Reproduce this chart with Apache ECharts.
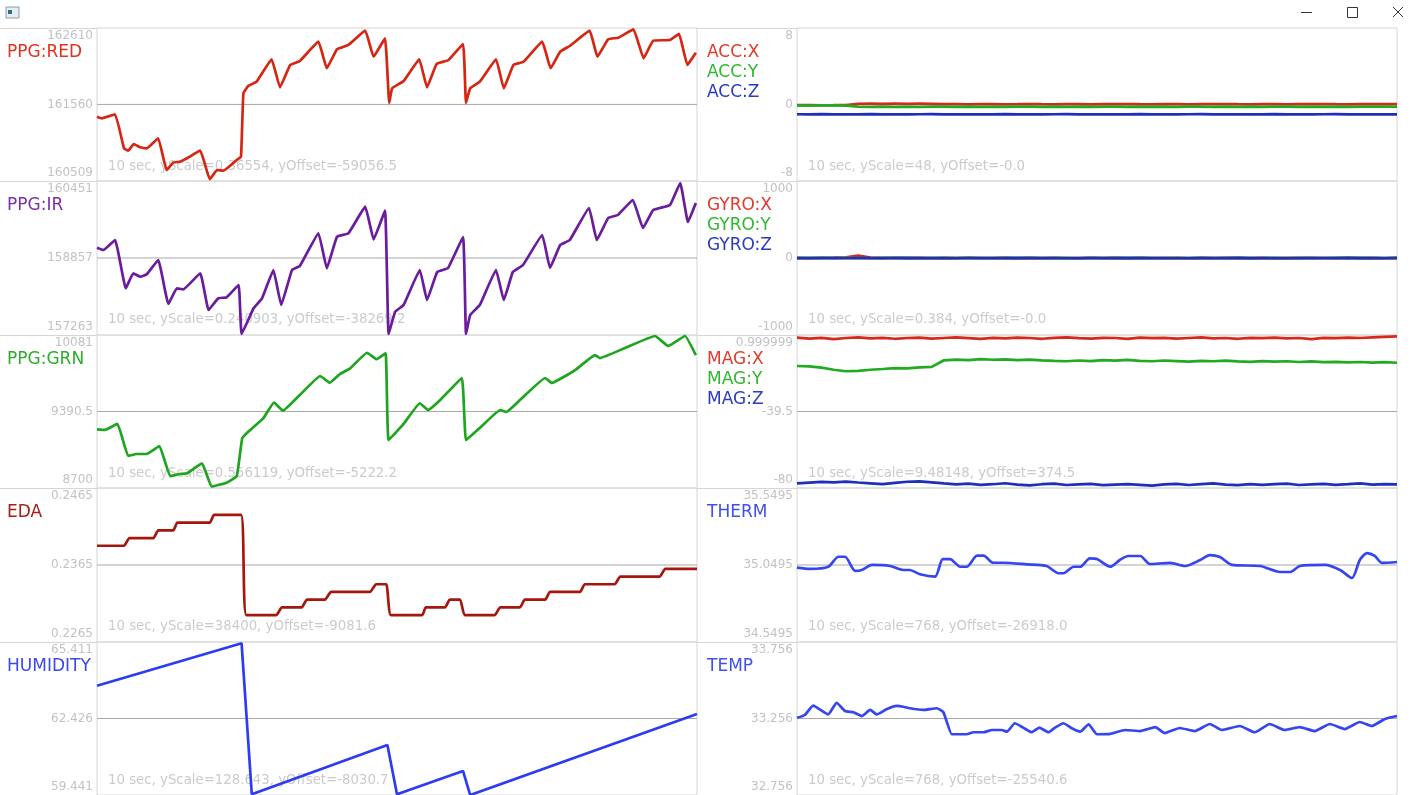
<!DOCTYPE html>
<html>
<head>
<meta charset="utf-8">
<title>sensor plots</title>
<script src="https://cdn.jsdelivr.net/npm/echarts@6.0.0/dist/echarts.min.js"></script>
<style>
  html, body { margin: 0; padding: 0; background: #fff; }
  #main { width: 1416px; height: 795px; }
</style>
</head>
<body>
<div id="main"></div>
<script>
// ---- data: [seconds, value] ----
const ppgRed = [[0,161392],[0.08,161370],[0.30,161425],[0.45,160958],[0.52,160925],[0.61,161017],[0.72,160972],[0.83,160958],[1.02,161096],[1.16,160660],[1.27,160761],[1.38,160774],[1.50,160821],[1.72,160925],[1.88,160533],[2.00,160660],[2.11,160651],[2.33,160798],[2.40,160843],[2.44,161713],[2.52,161814],[2.66,161873],[2.91,162180],[3.05,161796],[3.22,162102],[3.38,162157],[3.69,162422],[3.83,162057],[4.00,162318],[4.19,162377],[4.47,162573],[4.61,162216],[4.80,162469],[4.87,161584],[4.92,161782],[5.11,161882],[5.37,162180],[5.50,161796],[5.66,162116],[5.86,162171],[6.10,162390],[6.15,161584],[6.22,161782],[6.38,161873],[6.65,162180],[6.78,161782],[6.94,162102],[7.11,162147],[7.42,162422],[7.56,162057],[7.72,162285],[7.88,162363],[8.21,162573],[8.34,162216],[8.52,162455],[8.69,162477],[8.94,162592],[9.11,162194],[9.27,162436],[9.55,162445],[9.70,162528],[9.84,162102],[9.98,162271]];
const ppgIr = [[0,159070],[0.105,159023],[0.30,159230],[0.48,158230],[0.605,158540],[0.72,158470],[0.83,158520],[1.02,158816],[1.19,157905],[1.33,158230],[1.44,158209],[1.72,158540],[1.86,157781],[2.02,158023],[2.16,158044],[2.36,158298],[2.41,157284],[2.61,157816],[2.75,158023],[2.94,158609],[3.07,157884],[3.25,158609],[3.38,158691],[3.69,159368],[3.83,158644],[4.00,159298],[4.19,159368],[4.47,159919],[4.61,159244],[4.80,159836],[4.86,157284],[4.97,157746],[5.11,157884],[5.38,158609],[5.50,157988],[5.67,158567],[5.85,158650],[6.10,159292],[6.15,157284],[6.22,157677],[6.38,157884],[6.65,158609],[6.78,157988],[6.93,158567],[7.10,158712],[7.42,159333],[7.55,158650],[7.72,159126],[7.88,159230],[8.20,159892],[8.33,159230],[8.52,159685],[8.68,159747],[8.93,160058],[9.10,159478],[9.27,159851],[9.55,159954],[9.72,160410],[9.85,159602],[9.98,159996]];
const ppgGrn = [[0,9230],[0.13,9224],[0.34,9278],[0.52,8989],[0.66,9007],[0.83,9007],[1.04,9079],[1.22,8808],[1.38,8826],[1.50,8833],[1.75,8923],[1.91,8712],[2.02,8727],[2.16,8748],[2.33,8808],[2.42,9149],[2.52,9208],[2.77,9329],[2.95,9470],[3.10,9398],[3.38,9539],[3.72,9711],[3.88,9650],[4.05,9729],[4.22,9780],[4.50,9921],[4.66,9862],[4.81,9916],[4.86,9133],[5.11,9278],[5.38,9465],[5.52,9404],[5.72,9494],[6.08,9693],[6.15,9133],[6.38,9242],[6.72,9404],[6.82,9386],[7.05,9494],[7.47,9693],[7.58,9648],[7.97,9765],[8.30,9900],[8.38,9873],[8.80,9964],[9.30,10072],[9.52,9982],[9.80,10072],[9.98,9900]];
const eda = [[0,0.2390],[0.45,0.2390],[0.54,0.2400],[0.94,0.2400],[1.02,0.2410],[1.27,0.2410],[1.34,0.2420],[1.88,0.2420],[1.95,0.2430],[2.40,0.2430],[2.49,0.2300],[2.99,0.2300],[3.08,0.2310],[3.41,0.2310],[3.50,0.2320],[3.80,0.2320],[3.90,0.2330],[4.55,0.2330],[4.65,0.2340],[4.82,0.2340],[4.90,0.2300],[5.42,0.2300],[5.48,0.2310],[5.80,0.2310],[5.88,0.2320],[6.05,0.2320],[6.13,0.2300],[6.63,0.2300],[6.72,0.2310],[7.05,0.2310],[7.13,0.2320],[7.47,0.2320],[7.55,0.2330],[8.05,0.2330],[8.13,0.2340],[8.63,0.2340],[8.72,0.2350],[9.38,0.2350],[9.47,0.2360],[10,0.2360]];
const humidity = [[0,63.706],[2.41,65.36],[2.58,59.47],[4.84,61.39],[5.0,59.47],[6.1,60.38],[6.22,59.44],[10,62.60]];

// uniform samples over the 10 s window
const accX = [-0.07,-0.06,-0.08,-0.07,-0.05,0.08,0.09,0.07,0.09,0.08,0.10,0.07,0.03,0.04,0.02,0.03,0.04,0.02,0.03,0.05,0.03,0.02,0.04,0.03,0.02,0.04,0.03,0.05,0.03,0.02,0.04,0.03,0.02,0.04,0.03,0.05,0.03,0.02,0.04,0.03,0.02,0.04,0.03,0.05,0.03,0.02,0.04,0.03,0.04,0.05];
const accY = [-0.10,-0.11,-0.09,-0.10,-0.12,-0.22,-0.24,-0.23,-0.25,-0.22,-0.24,-0.23,-0.22,-0.24,-0.23,-0.25,-0.22,-0.24,-0.23,-0.22,-0.24,-0.23,-0.25,-0.22,-0.24,-0.23,-0.22,-0.24,-0.23,-0.25,-0.22,-0.24,-0.23,-0.22,-0.24,-0.23,-0.25,-0.22,-0.24,-0.23,-0.22,-0.24,-0.23,-0.25,-0.22,-0.24,-0.23,-0.22,-0.21,-0.22];
const accZ = [-1.02,-1.03,-1.01,-1.04,-1.02,-1.03,-1.01,-1.03,-1.02,-1.04,-1.02,-1.01,-1.03,-1.02,-1.04,-1.02,-1.03,-1.01,-1.03,-1.02,-1.04,-1.02,-1.01,-1.03,-1.02,-1.04,-1.02,-1.03,-1.01,-1.03,-1.02,-1.04,-1.02,-1.01,-1.03,-1.02,-1.04,-1.02,-1.03,-1.01,-1.03,-1.02,-1.04,-1.02,-1.01,-1.03,-1.02,-1.04,-1.02,-1.03];
const gyroX = [2,-3,1,4,8,30,6,-2,3,-1,2,-3,1,-2,3,0,-1,2,-3,1,-2,2,0,-1,3,-2,1,-3,2,0,-1,2,-3,1,-2,3,0,-1,2,-3,1,-2,2,0,-1,3,-2,1,-3,2];
const gyroY = [-2,1,3,-1,2,0,-3,1,2,-1,0,2,-2,1,3,-1,0,2,-2,1,0,-1,2,-3,1,0,2,-1,1,-2,0,3,-1,1,0,-2,2,-1,0,1,-2,3,-1,0,2,-1,1,-2,0,1];
const gyroZ = [-1,-2,0,-1,-3,-1,0,-2,-1,1,-2,0,-1,-3,-1,0,-2,-1,1,-2,0,-1,-3,-1,0,-2,-1,1,-2,0,-1,-3,-1,0,-2,-1,1,-2,0,-1,-3,-1,0,-2,-1,1,-2,0,-1,-2];
const magX = [-0.4,-0.9,-0.5,-1.2,-0.6,-0.3,-0.8,-0.5,-1.0,-0.6,-0.4,-0.9,-0.6,-0.3,-0.7,-1.1,-0.5,-0.8,-0.4,-0.6,-1.0,-0.5,-0.3,-0.7,-0.9,-0.5,-0.6,-1.1,-0.4,-0.7,-0.5,-0.9,-0.6,-0.3,-0.8,-0.6,-1.0,-0.5,-0.7,-0.4,-0.8,-0.6,-1.2,-0.5,-0.7,-0.4,-0.6,-0.3,0.0,0.3];
const magY = [-15.4,-15.6,-16.3,-17.4,-18.2,-18.0,-17.4,-17.0,-16.5,-16.7,-16.1,-15.9,-12.4,-12.0,-12.3,-11.8,-12.1,-11.9,-12.3,-12.0,-12.4,-12.7,-12.9,-12.5,-12.8,-12.3,-12.6,-12.2,-12.7,-12.9,-12.5,-12.8,-13.1,-12.7,-12.9,-12.6,-13.0,-13.2,-12.8,-13.1,-12.9,-13.3,-13.0,-13.4,-13.2,-13.5,-13.3,-13.6,-13.4,-13.7];
const magZ = [-77.6,-77.2,-76.8,-77.0,-76.6,-77.1,-77.5,-77.9,-77.3,-76.7,-76.5,-77.0,-77.6,-78.1,-77.7,-78.3,-78.0,-77.5,-78.2,-78.6,-78.0,-77.7,-78.4,-78.1,-77.8,-78.5,-78.2,-77.9,-78.3,-78.7,-78.1,-77.8,-78.4,-78.0,-77.6,-78.2,-78.5,-77.9,-78.3,-78.0,-77.7,-78.4,-78.1,-77.8,-78.3,-78.0,-77.6,-78.2,-77.9,-78.1];

const therm = [[0,35.032],[0.22,35.024],[0.52,35.038],[0.69,35.103],[0.80,35.103],[0.97,35.011],[1.08,35.017],[1.25,35.050],[1.55,35.043],[1.77,35.017],[1.88,35.017],[2.05,34.989],[2.30,34.974],[2.43,35.088],[2.55,35.088],[2.72,35.038],[2.83,35.038],[3.00,35.110],[3.11,35.110],[3.27,35.064],[3.44,35.064],[3.83,35.054],[4.16,35.043],[4.36,34.996],[4.44,34.996],[4.61,35.038],[4.72,35.038],[4.88,35.093],[5.00,35.088],[5.22,35.038],[5.38,35.082],[5.52,35.108],[5.72,35.108],[5.88,35.056],[6.22,35.063],[6.47,35.043],[6.72,35.082],[6.88,35.114],[7.05,35.101],[7.25,35.050],[7.72,35.043],[8.05,35.004],[8.22,35.004],[8.38,35.043],[8.80,35.050],[9.05,35.017],[9.25,34.965],[9.38,35.082],[9.50,35.127],[9.63,35.108],[9.75,35.063],[10,35.069]];
const temp = [[0,33.261],[0.13,33.279],[0.27,33.340],[0.52,33.283],[0.66,33.359],[0.80,33.305],[0.94,33.297],[1.08,33.272],[1.22,33.312],[1.33,33.283],[1.50,33.318],[1.66,33.338],[1.77,33.333],[1.88,33.323],[2.10,33.312],[2.33,33.323],[2.44,33.297],[2.58,33.153],[2.66,33.153],[2.83,33.153],[2.94,33.166],[3.11,33.166],[3.25,33.181],[3.41,33.181],[3.50,33.170],[3.63,33.225],[3.77,33.196],[3.91,33.166],[4.04,33.196],[4.19,33.166],[4.30,33.196],[4.44,33.225],[4.58,33.192],[4.72,33.170],[4.86,33.218],[5.00,33.153],[5.22,33.155],[5.47,33.181],[5.72,33.174],[5.97,33.200],[6.13,33.161],[6.38,33.194],[6.63,33.174],[6.88,33.220],[7.08,33.181],[7.38,33.207],[7.63,33.166],[7.88,33.220],[8.13,33.181],[8.38,33.200],[8.63,33.174],[8.88,33.220],[9.13,33.187],[9.38,33.233],[9.58,33.207],[9.80,33.253],[10,33.272]];

// ---- tick labels (min, mid, max) ----
const ppgRedTicks = ['160509', '161560', '162610'];
const ppgIrTicks = ['157263', '158857', '160451'];
const ppgGrnTicks = ['8700', '9390.5', '10081'];
const edaTicks = ['0.2265', '0.2365', '0.2465'];
const humidityTicks = ['59.441', '62.426', '65.411'];
const accTicks = ['-8', '0', '8'];
const gyroTicks = ['-1000', '0', '1000'];
const magTicks = ['-80', '-39.5', '0.999999'];
const thermTicks = ['34.5495', '35.0495', '35.5495'];
const tempTicks = ['32.756', '33.256', '33.756'];

const FONT = '"DejaVu Sans", Verdana, sans-serif';
const rowTops = [28, 181, 335, 488, 642, 795];
const colLeft = [97, 797];
const plotW = 600;

const uniform = arr => arr.map((v, k) => [k * 10 / (arr.length - 1), v]);

const RED = '#d8281a', GRN = '#22aa22', BLU = '#1f2fbb', LBLU = '#3545f0';

const panels = [
  { col: 0, row: 0, ticks: ppgRedTicks, smooth: 0.1, info: '10 sec, yScale=0.36554, yOffset=-59056.5',
    lines: [{ name: 'PPG:RED', color: '#d62512', text: '#e0321f', data: ppgRed }] },
  { col: 0, row: 1, ticks: ppgIrTicks, smooth: 0.1, info: '10 sec, yScale=0.240903, yOffset=-38269.2',
    lines: [{ name: 'PPG:IR', color: '#6a1c9c', text: '#7b2dac', data: ppgIr }] },
  { col: 0, row: 2, ticks: ppgGrnTicks, smooth: 0.1, info: '10 sec, yScale=0.556119, yOffset=-5222.2',
    lines: [{ name: 'PPG:GRN', color: '#1ea51e', text: '#2aad2a', data: ppgGrn }] },
  { col: 0, row: 3, ticks: edaTicks, smooth: 0.15, info: '10 sec, yScale=38400, yOffset=-9081.6',
    lines: [{ name: 'EDA', color: '#a5170c', text: '#a52015', data: eda }] },
  { col: 0, row: 4, ticks: humidityTicks, smooth: 0, info: '10 sec, yScale=128.643, yOffset=-8030.7',
    lines: [{ name: 'HUMIDITY', color: '#2c3cf2', text: '#3a48ee', data: humidity }] },
  { col: 1, row: 0, ticks: accTicks, smooth: 0, info: '10 sec, yScale=48, yOffset=-0.0',
    lines: [{ name: 'ACC:X', color: RED, text: '#e03a2a', data: uniform(accX) },
            { name: 'ACC:Y', color: GRN, text: '#30b830', data: uniform(accY) },
            { name: 'ACC:Z', color: BLU, text: '#2a3ac2', data: uniform(accZ) }] },
  { col: 1, row: 1, ticks: gyroTicks, smooth: 0, info: '10 sec, yScale=0.384, yOffset=-0.0',
    lines: [{ name: 'GYRO:X', color: RED, text: '#e03a2a', data: uniform(gyroX) },
            { name: 'GYRO:Y', color: GRN, text: '#30b830', data: uniform(gyroY) },
            { name: 'GYRO:Z', color: BLU, text: '#2a3ac2', data: uniform(gyroZ) }] },
  { col: 1, row: 2, ticks: magTicks, smooth: 0, info: '10 sec, yScale=9.48148, yOffset=374.5',
    lines: [{ name: 'MAG:X', color: RED, text: '#e03a2a', data: uniform(magX) },
            { name: 'MAG:Y', color: GRN, text: '#30b830', data: uniform(magY) },
            { name: 'MAG:Z', color: BLU, text: '#2a3ac2', data: uniform(magZ) }] },
  { col: 1, row: 3, ticks: thermTicks, smooth: 0.25, info: '10 sec, yScale=768, yOffset=-26918.0',
    lines: [{ name: 'THERM', color: LBLU, text: '#4050ee', data: therm }] },
  { col: 1, row: 4, ticks: tempTicks, smooth: 0.15, info: '10 sec, yScale=768, yOffset=-25540.6',
    lines: [{ name: 'TEMP', color: LBLU, text: '#4050ee', data: temp }] }
];

const grid = [], xAxis = [], yAxis = [], series = [], graphic = [];

panels.forEach((p, i) => {
  const top = rowTops[p.row];
  const h = rowTops[p.row + 1] - top;
  const lo = +p.ticks[0], mid = +p.ticks[1], hi = +p.ticks[2];
  const tickVals = [lo, mid, hi];

  grid.push({ left: colLeft[p.col], top: top, width: plotW, height: h, outerBoundsMode: 'none',
    show: true, borderColor: '#d6d6d6', borderWidth: 1, backgroundColor: 'transparent' });
  xAxis.push({ gridIndex: i, type: 'value', min: 0, max: 10, show: false });
  yAxis.push({
    gridIndex: i, type: 'value', min: lo, max: hi,
    axisLine: { show: false }, axisTick: { show: false }, splitLine: { show: false },
    axisLabel: {
      customValues: tickVals, margin: 4, color: '#c2c2c2', fontSize: 12,
      fontFamily: FONT, lineHeight: 16, padding: [2, 0, 0, 0],
      formatter: v => {
        let k = 0;
        tickVals.forEach((t, j) => { if (Math.abs(t - v) < Math.abs(tickVals[k] - v)) k = j; });
        // keep top / bottom labels inside the plot band
        if (k === 2) return '\n' + p.ticks[2];
        if (k === 0) return p.ticks[0] + '\n';
        return p.ticks[1];
      }
    }
  });

  // centre reference line
  series.push({ type: 'line', xAxisIndex: i, yAxisIndex: i, data: [[0, mid], [10, mid]],
    symbol: 'none', silent: true, z: 1, lineStyle: { color: '#a9a9a9', width: 1 } });

  p.lines.forEach((l, j) => {
    series.push({ type: 'line', name: l.name, xAxisIndex: i, yAxisIndex: i, data: l.data,
      showSymbol: false, smooth: p.smooth, z: 3 + j, lineStyle: { color: l.color, width: 2.7 } });
    graphic.push({ type: 'text', x: p.col ? 707 : 7, y: top + 24.5 + j * 20, z: 10,
      style: { text: l.name, fill: l.text, font: '17px ' + FONT, verticalAlign: 'middle' } });
  });

  graphic.push({ type: 'text', x: colLeft[p.col] + 11, y: top + 139, z: 0,
    style: { text: p.info, fill: '#cbcbcb', font: '13.3px ' + FONT, verticalAlign: 'middle' } });
});

// row separators across the label columns
rowTops.slice(0, 5).forEach(y => {
  graphic.push({ type: 'line', shape: { x1: 0, y1: y + 0.5, x2: 97, y2: y + 0.5 }, style: { stroke: '#d6d6d6', lineWidth: 1 } });
  graphic.push({ type: 'line', shape: { x1: 697, y1: y + 0.5, x2: 797, y2: y + 0.5 }, style: { stroke: '#d6d6d6', lineWidth: 1 } });
});

// window chrome
graphic.push(
  { type: 'rect', shape: { x: 6, y: 7, width: 13, height: 11 }, style: { fill: '#e6edf2', stroke: '#8c9aa6', lineWidth: 1 } },
  { type: 'rect', shape: { x: 8, y: 10, width: 4, height: 4 }, style: { fill: '#2f6f80' } },
  { type: 'line', shape: { x1: 1301, y1: 12.5, x2: 1312, y2: 12.5 }, style: { stroke: '#333', lineWidth: 1 } },
  { type: 'rect', shape: { x: 1347.5, y: 7.5, width: 10, height: 10 }, style: { fill: 'none', stroke: '#333', lineWidth: 1 } },
  { type: 'line', shape: { x1: 1393, y1: 7, x2: 1403, y2: 17 }, style: { stroke: '#333', lineWidth: 1 } },
  { type: 'line', shape: { x1: 1403, y1: 7, x2: 1393, y2: 17 }, style: { stroke: '#333', lineWidth: 1 } }
);

const chart = echarts.init(document.getElementById('main'));
chart.setOption({
  animation: false,
  backgroundColor: '#ffffff',
  grid: grid,
  xAxis: xAxis,
  yAxis: yAxis,
  series: series,
  graphic: graphic
});
</script>
</body>
</html>
